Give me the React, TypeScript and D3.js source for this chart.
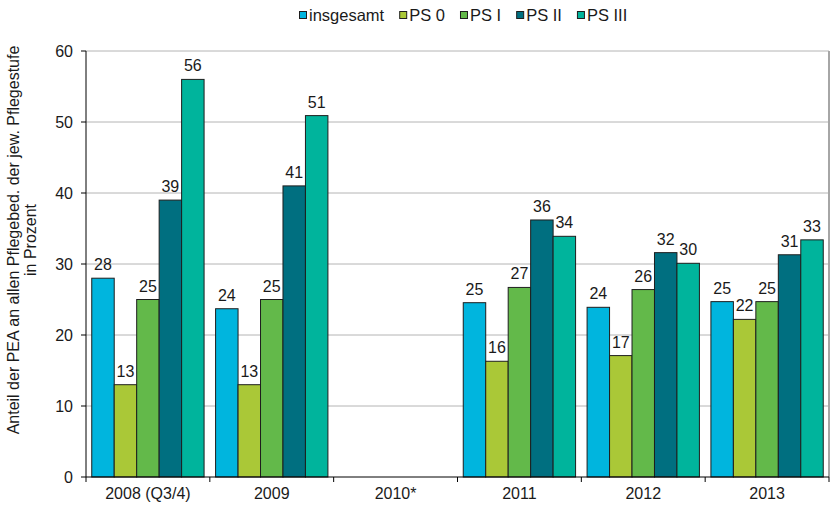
import React, { useEffect, useRef } from "react";
import * as d3 from "d3";

const categories = ["2008 (Q3/4)", "2009", "2010*", "2011", "2012", "2013"];
const seriesNames = ["insgesamt", "PS 0", "PS I", "PS II", "PS III"];
const seriesColors = ["#00b5de", "#aac837", "#63b94a", "#006f80", "#00b49c"];

// values per series, one per category (null = no data)
const insgesamt = [28.0, 23.7, null, 24.55, 23.9, 24.7];
const ps0 = [13.0, 13.0, null, 16.3, 17.1, 22.2];
const ps1 = [25.0, 25.0, null, 26.7, 26.4, 24.7];
const ps2 = [39.0, 41.0, null, 36.2, 31.6, 31.3];
const ps3 = [56.0, 50.9, null, 33.9, 30.1, 33.4];
const seriesValues = [insgesamt, ps0, ps1, ps2, ps3];

const yTicks = [0, 10, 20, 30, 40, 50, 60];

const W = 831;
const H = 507;
const M = { left: 86, right: 2, top: 51, bottom: 30 };
const FONT = "'Liberation Sans', Arial, sans-serif";
const FS = 16;

export default function App() {
  const ref = useRef<SVGSVGElement | null>(null);

  useEffect(() => {
    const svg = d3.select(ref.current);
    svg.selectAll("*").remove();

    const x0 = d3.scaleBand<string>().domain(categories).range([M.left, W - M.right]).paddingInner(0).paddingOuter(0);
    const x1 = d3.scaleBand<string>().domain(seriesNames).range([0, x0.bandwidth()]).paddingInner(0).paddingOuter(0.256);
    const y = d3.scaleLinear().domain([0, 60]).range([H - M.bottom, M.top]);

    const g = svg.append("g").attr("font-family", FONT).attr("font-size", FS).attr("fill", "#1a1a1a");

    // gridlines
    g.append("g")
      .selectAll("line")
      .data(yTicks.filter((t) => t > 0))
      .join("line")
      .attr("x1", M.left)
      .attr("x2", W - M.right)
      .attr("y1", (d) => y(d))
      .attr("y2", (d) => y(d))
      .attr("stroke", "#b4b4b4")
      .attr("stroke-width", 1);

    // right border
    g.append("line")
      .attr("x1", W - M.right)
      .attr("x2", W - M.right)
      .attr("y1", y(60))
      .attr("y2", y(0))
      .attr("stroke", "#a6a6a6")
      .attr("stroke-width", 2);

    // bars
    categories.forEach((cat, ci) => {
      seriesNames.forEach((s, si) => {
        const v = seriesValues[si][ci];
        if (v == null) return;
        const bx = (x0(cat) as number) + (x1(s) as number);
        g.append("rect")
          .attr("x", bx)
          .attr("y", y(v))
          .attr("width", x1.bandwidth())
          .attr("height", y(0) - y(v))
          .attr("fill", seriesColors[si])
          .attr("stroke", "#1e1e1e")
          .attr("stroke-width", 1);
        g.append("text")
          .attr("x", bx + x1.bandwidth() / 2)
          .attr("y", y(v) - 8)
          .attr("text-anchor", "middle")
          .text(String(Math.round(v)));
      });
    });

    // y axis
    g.append("line")
      .attr("x1", M.left)
      .attr("x2", M.left)
      .attr("y1", y(60))
      .attr("y2", y(0))
      .attr("stroke", "#000")
      .attr("stroke-width", 1);
    yTicks.forEach((t) => {
      g.append("line")
        .attr("x1", M.left - 5)
        .attr("x2", M.left)
        .attr("y1", y(t))
        .attr("y2", y(t))
        .attr("stroke", "#000");
      g.append("text")
        .attr("x", M.left - 13)
        .attr("y", y(t))
        .attr("dy", "0.35em")
        .attr("text-anchor", "end")
        .text(String(t));
    });

    // x axis
    g.append("line")
      .attr("x1", M.left)
      .attr("x2", W - M.right)
      .attr("y1", y(0))
      .attr("y2", y(0))
      .attr("stroke", "#000");
    const bounds = categories.map((c) => x0(c) as number).concat([W - M.right]);
    bounds.forEach((bx) => {
      g.append("line")
        .attr("x1", bx)
        .attr("x2", bx)
        .attr("y1", y(0))
        .attr("y2", y(0) + 5)
        .attr("stroke", "#000");
    });
    categories.forEach((c) => {
      g.append("text")
        .attr("x", (x0(c) as number) + x0.bandwidth() / 2)
        .attr("y", y(0) + 22)
        .attr("text-anchor", "middle")
        .text(c);
    });

    // y title
    const yt = g.append("text").attr("transform", "translate(0,240) rotate(-90)").attr("text-anchor", "middle");
    yt.append("tspan").attr("x", 0).attr("y", 19).text("Anteil der PEA an allen Pflegebed. der jew. Pflegestufe");
    yt.append("tspan").attr("x", 0).attr("y", 36).text("in Prozent");

    // legend
    const leg = g.append("g").attr("font-size", 16.5);
    let lx = 299;
    seriesNames.forEach((s, si) => {
      leg.append("rect")
        .attr("x", lx + 0.5)
        .attr("y", 11.5)
        .attr("width", 7)
        .attr("height", 7)
        .attr("fill", seriesColors[si])
        .attr("stroke", "#1e1e1e")
        .attr("stroke-width", 1);
      const t = leg.append("text").attr("x", lx + 10).attr("y", 21).text(s);
      const tw = (t.node() as SVGTextElement).getComputedTextLength();
      lx += 10 + tw + 15;
    });
  }, []);

  return (
    <svg
      ref={ref}
      width={W}
      height={H}
      style={{ position: "absolute", left: 0, top: 0, background: "#fff" }}
    />
  );
}
